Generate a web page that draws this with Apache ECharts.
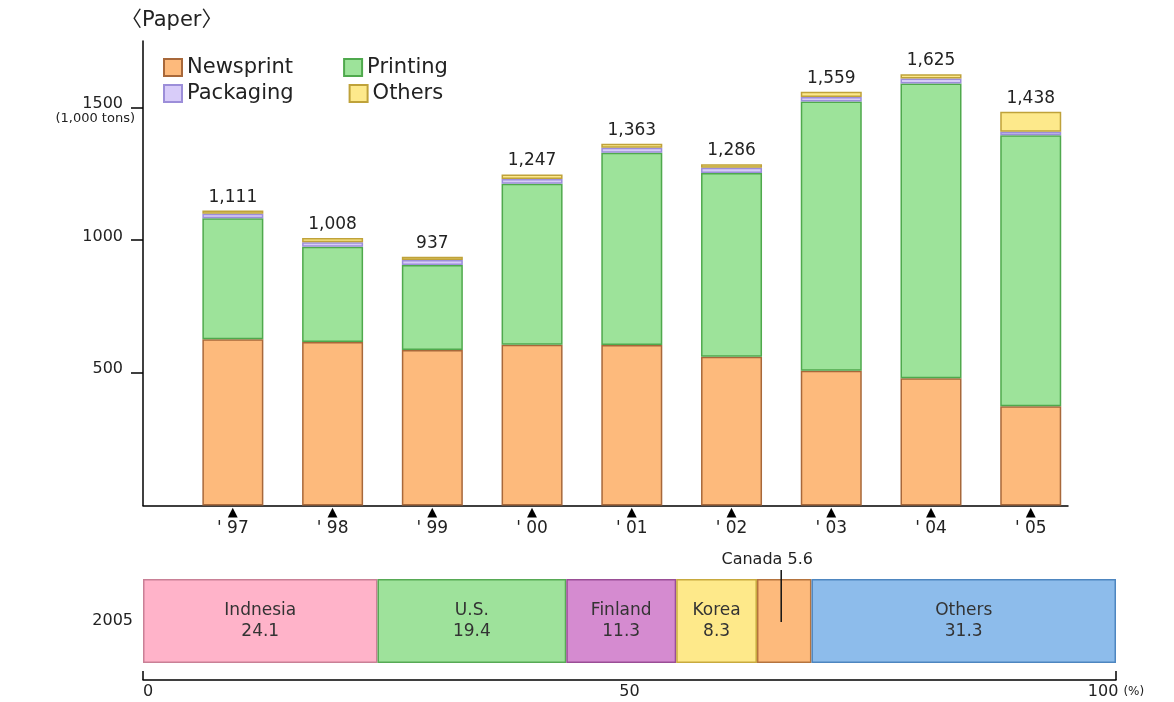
<!DOCTYPE html>
<html>
<head>
<meta charset="utf-8">
<script src="https://cdn.jsdelivr.net/npm/echarts@6/dist/echarts.min.js"></script>
<style>
  html, body { margin: 0; padding: 0; background: #fff; }
  #chart { width: 1174px; height: 702px; }
</style>
</head>
<body>
<div id="chart"></div>
<script>
// paper imports, 1,000 tons
const years = ["' 97", "' 98", "' 99", "' 00", "' 01", "' 02", "' 03", "' 04", "' 05"]
const newsprint = [626, 616, 586, 606, 605, 560, 508, 479, 374]
const printing = [456, 359, 320, 606, 724, 693, 1014, 1111, 1021]
const packaging = [17, 17, 19, 18, 19, 19, 17, 19, 13]
const others = [12, 16, 12, 17, 15, 14, 20, 16, 75]
const totals = [1111, 1008, 937, 1247, 1363, 1286, 1559, 1625, 1438]
const yTicks = [500, 1000, 1500]

// 2005 share by country, %
const shareYear = ['2005']
const countries = ['Indnesia', 'U.S.', 'Finland', 'Korea', 'Canada', 'Others']
const shares = [24.1, 19.4, 11.3, 8.3, 5.6, 31.3]
const shareTicks = [0, 50, 100]

const FONT = 'DejaVu Sans, Noto Sans CJK JP, sans-serif'
const INK = '#222'
const YMAX = 1750

const stackColors = {
  Newsprint: ['#fdba7c', '#a8683a'],
  Printing: ['#9de39a', '#4fa94d'],
  Packaging: ['#d8ccf9', '#9c8ed9'],
  Others: ['#fde98b', '#bfa23a'],
}
const shareColors = [
  ['#ffb3c9', '#c98096'], ['#9ee29b', '#57aa55'], ['#d58bd0', '#9a4e96'],
  ['#fee98a', '#c8aa3e'], ['#fdba7c', '#b5743e'], ['#8dbceb', '#4e86c0'],
]

const stacks = [
  ['Newsprint', newsprint], ['Printing', printing],
  ['Packaging', packaging], ['Others', others],
]

const yearSeries = stacks.map(([name, vals], k) => ({
  name, type: 'bar', stack: 'paper', xAxisIndex: 1, yAxisIndex: 1,
  barWidth: 61,
  data: vals,
  itemStyle: { color: stackColors[name][0], borderColor: stackColors[name][1], borderWidth: 1.5 },
  label: k === stacks.length - 1 ? {
    show: true, position: 'top', distance: 5,
    color: INK, fontFamily: FONT, fontSize: 17,
    formatter: p => totals[p.dataIndex].toLocaleString('en-US'),
  } : { show: false },
}))

const shareSeries = countries.map((name, i) => ({
  name, type: 'bar', stack: 'share', xAxisIndex: 2, yAxisIndex: 2,
  barWidth: 84,
  data: [shares[i]],
  itemStyle: { color: shareColors[i][0], borderColor: shareColors[i][1], borderWidth: 1.5 },
  label: name === 'Canada' ? {
    show: true, position: 'inside', offset: [-17, -35],
    formatter: p => '{t|' + p.seriesName + ' ' + p.value + '}\n{sp| }{ln| }',
    rich: {
      t: { fontFamily: FONT, fontSize: 16, color: INK, lineHeight: 20 },
      sp: { width: 28, height: 52, lineHeight: 52 },
      ln: { width: 1.5, height: 52, lineHeight: 52, backgroundColor: '#111' },
    },
  } : {
    show: true, position: 'inside', color: '#333',
    fontFamily: FONT, fontSize: 17, lineHeight: 21,
    formatter: p => p.seriesName + '\n' + p.value,
  },
}))

const legendBase = {
  orient: 'horizontal', icon: 'rect', itemWidth: 18, itemHeight: 17,
  selectedMode: false, left: 158,
  textStyle: { fontFamily: FONT, fontSize: 21, color: INK },
}

const chart = echarts.init(document.getElementById('chart'), null, { renderer: 'canvas' })
chart.setOption({
  animation: false,
  textStyle: { fontFamily: FONT, color: INK },
  title: {
    text: '〈Paper〉', left: 116, top: 5,
    textStyle: { fontFamily: FONT, fontSize: 21, fontWeight: 'normal', color: INK },
  },
  legend: [
    Object.assign({ data: ['Newsprint', 'Printing'], top: 52, itemGap: 50 }, legendBase),
    Object.assign({ data: ['Packaging', 'Others'], top: 78, itemGap: 55 }, legendBase),
  ],
  grid: [
    // frame: the y axis and baseline
    { left: 143, right: 106, top: 41, bottom: 196.5 },
    // bars: one slot per year
    { left: 183, right: 93.4, top: 41, bottom: 196.5 },
    // 2005 share strip
    { left: 143, right: 58, top: 579, height: 84 },
  ],
  xAxis: [
    {
      gridIndex: 0, type: 'value', min: 0, max: 1,
      axisLine: { show: true, onZero: false, lineStyle: { color: '#000', width: 1.5 } },
      axisTick: { show: false }, axisLabel: { show: false }, splitLine: { show: false },
    },
    {
      gridIndex: 1, type: 'category', data: years,
      axisLine: { show: false }, axisTick: { show: false },
      axisLabel: {
        margin: 1,
        formatter: v => '{t|▲}\n{y|' + v + '}',
        rich: {
          t: { fontFamily: FONT, fontSize: 13, lineHeight: 12, color: '#000' },
          y: { fontFamily: FONT, fontSize: 17, lineHeight: 21, color: INK },
        },
      },
    },
    {
      gridIndex: 2, type: 'value', min: 0, max: 100, offset: 17,
      axisLine: { show: true, onZero: false, lineStyle: { color: '#000', width: 1.5 } },
      axisTick: { show: true, customValues: [0, 100], inside: true, length: 9, lineStyle: { color: '#000', width: 1.5 } },
      splitLine: { show: false },
      axisLabel: {
        customValues: shareTicks, margin: 4, alignMinLabel: 'left',
        color: INK, fontFamily: FONT, fontSize: 16,
        formatter: v => v === 100 ? '100 {u|(%)}' : String(v),
        rich: { u: { fontFamily: FONT, fontSize: 12, color: INK } },
      },
    },
  ],
  yAxis: [
    {
      gridIndex: 0, type: 'value', min: 0, max: YMAX,
      axisLine: { show: true, onZero: false, lineStyle: { color: '#000', width: 1.5 } },
      axisTick: { show: true, customValues: yTicks, length: 12, lineStyle: { color: '#000', width: 1.5 } },
      splitLine: { show: false },
      axisLabel: {
        customValues: yTicks, margin: 8, align: 'right', padding: [6, 0, 0, 0],
        formatter: v => '{a|' + v + '}\n{s|' + (v === 1500 ? '(1,000 tons)' : ' ') + '}',
        rich: {
          a: { fontFamily: FONT, fontSize: 16, lineHeight: 16, color: INK, padding: [0, 12, 0, 0] },
          s: { fontFamily: FONT, fontSize: 13, lineHeight: 13, color: INK },
        },
      },
    },
    {
      gridIndex: 1, type: 'value', min: 0, max: YMAX, show: false,
    },
    {
      gridIndex: 2, type: 'category', data: shareYear,
      axisLine: { show: false }, axisTick: { show: false },
      axisLabel: { margin: 10, color: INK, fontFamily: FONT, fontSize: 16 },
    },
  ],
  series: [...yearSeries, ...shareSeries],
})
</script>
</body>
</html>
